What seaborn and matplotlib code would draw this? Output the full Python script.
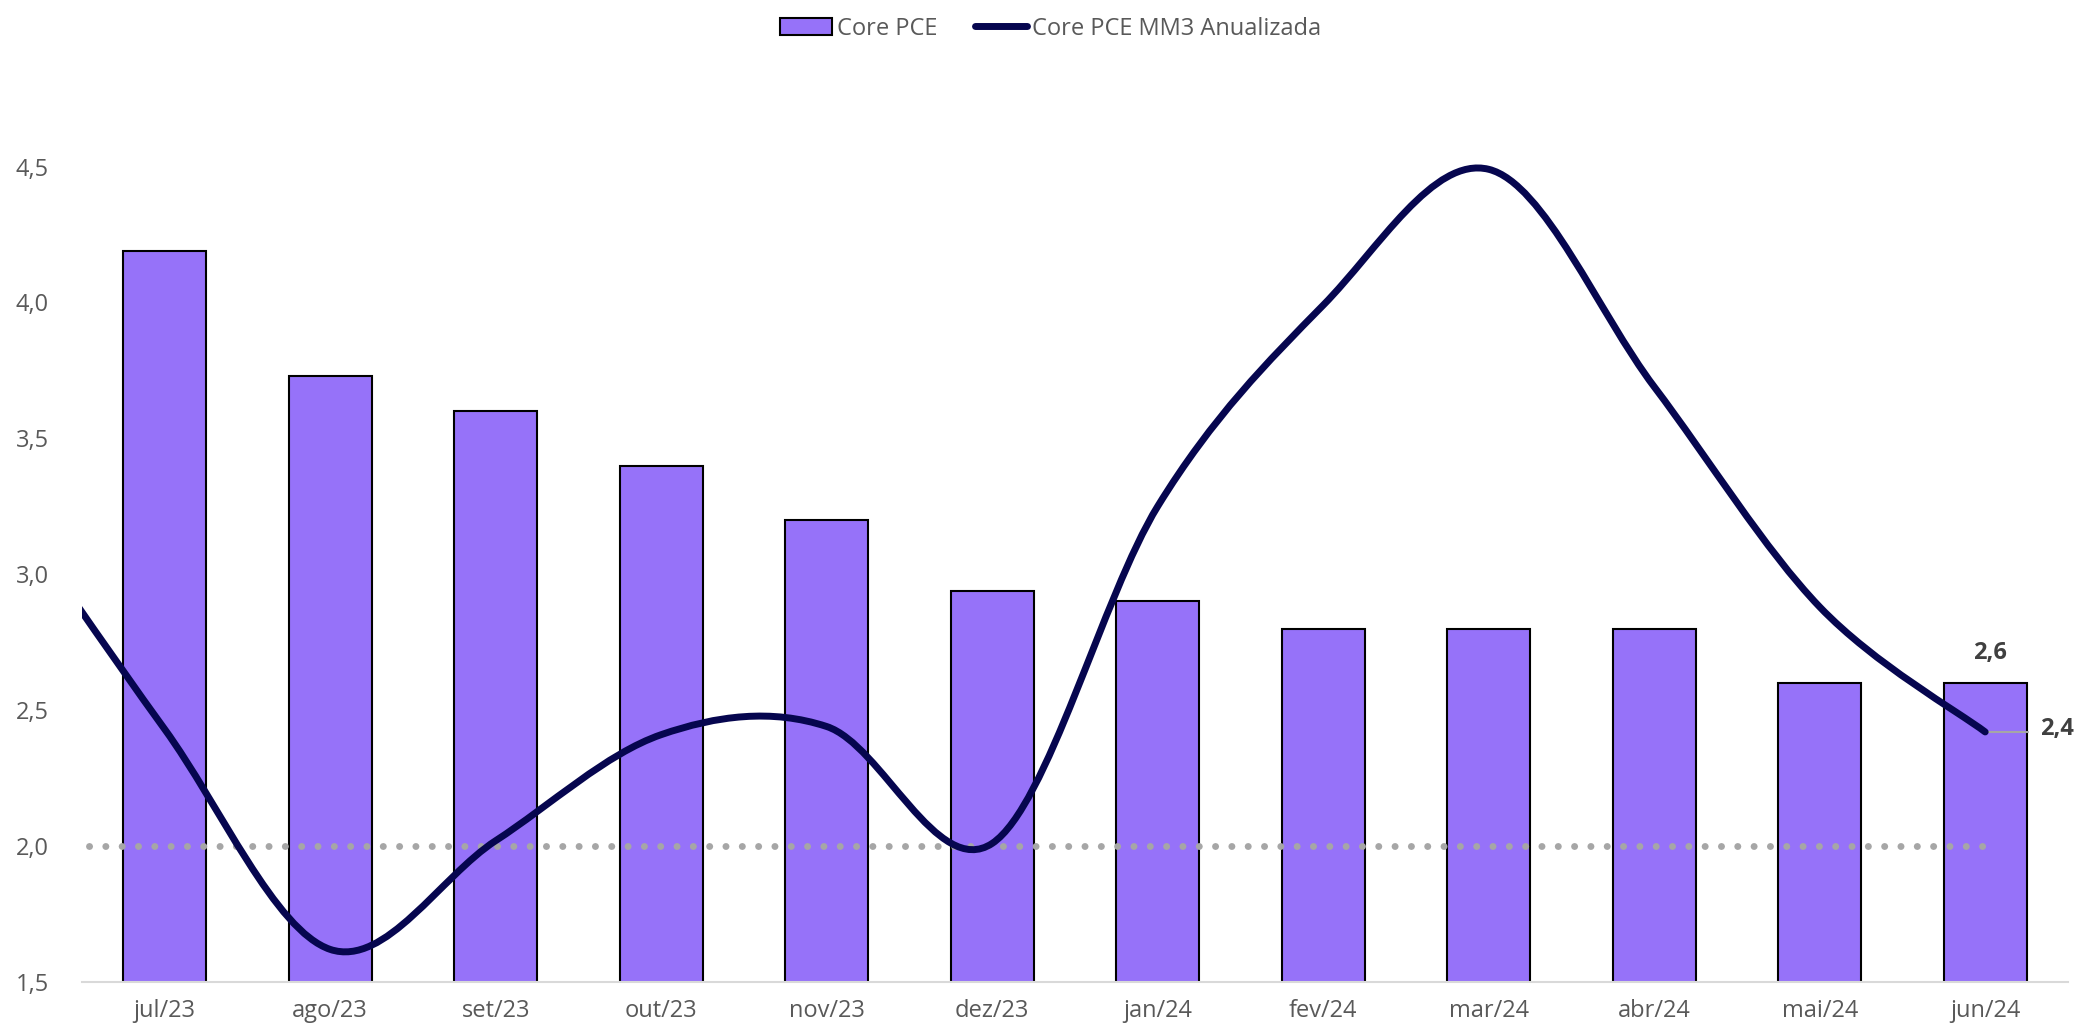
import numpy as np
import pandas as pd
import matplotlib
matplotlib.use("Agg")
import matplotlib.pyplot as plt
import seaborn as sns
from matplotlib.path import Path
from matplotlib.patches import PathPatch, Rectangle, Patch
from matplotlib.lines import Line2D


# Data

months = ["jul/23", "ago/23", "set/23", "out/23", "nov/23", "dez/23",
          "jan/24", "fev/24", "mar/24", "abr/24", "mai/24", "jun/24"]
core_pce = [4.19, 3.73, 3.6, 3.4, 3.2, 2.94, 2.9, 2.8, 2.8, 2.8, 2.6, 2.6]

# MM3 annualized - first value is jun/23, just left of the visible window
mm3_months = ["jun/23"] + months
mm3 = [3.3, 2.43, 1.62, 2.02, 2.41, 2.44, 2.01, 3.25, 3.99, 4.49, 3.69, 2.88, 2.42]

target = 2.0

BAR = "#9672F9"
LINE = "#06064F"
GREY_TXT = "#595959"
DARK_TXT = "#404040"
AXIS = "#D9D9D9"


# Style

sns.set_theme(style="white")
plt.rcParams["font.family"] = ["Open Sans", "DejaVu Sans"]

fig = plt.figure(figsize=(20.8, 10.27), dpi=100)
ax = fig.add_axes([0.0394, 0.0438, 0.9548, 0.794])


# Bars

df = pd.DataFrame({"mes": months, "valor": core_pce})
sns.barplot(data=df, x="mes", y="valor", color=BAR, saturation=1,
            width=0.5, edgecolor="black", linewidth=1.5, ax=ax, zorder=2)


# Smoothed line (Excel-style bezier through the points)

xs = np.arange(len(mm3)) - 1.0
pts = np.column_stack([xs, np.array(mm3)])
verts = [pts[0]]
codes = [Path.MOVETO]
for i in range(len(pts) - 1):
    prev = pts[i - 1] if i > 0 else pts[i]
    nxt = pts[i + 2] if i + 2 < len(pts) else pts[i + 1]
    verts += [pts[i] + (pts[i + 1] - prev) / 6,
              pts[i + 1] - (nxt - pts[i]) / 6,
              pts[i + 1]]
    codes += [Path.CURVE4] * 3

curve = PathPatch(Path(verts, codes), fill=False, edgecolor=LINE, lw=5,
                  capstyle="round", joinstyle="round", zorder=4)
ax.add_patch(curve)
clip = Rectangle((-0.5, 0), 13, 10, transform=ax.transData)
curve.set_clip_path(clip)


# Target line 2%

ax.plot([-0.46, 11], [target, target], color="#A6A6A6", lw=5.0,
        linestyle=(0, (0.01, 2.34)), dash_capstyle="round", zorder=3)


# Labels on last points

ax.text(11.03, core_pce[-1] + 0.11, "2,6", ha="center", va="center",
        fontsize=17, fontweight="bold", color=DARK_TXT)
ax.plot([11, 11.26], [mm3[-1], mm3[-1]], color="#A6A6A6", lw=1.5, zorder=3)
ax.text(11.33, mm3[-1] + 0.01, "2,4", ha="left", va="center",
        fontsize=17, fontweight="bold", color=DARK_TXT, clip_on=False)


# Axes

ax.set_xlim(-0.5, 11.5)
ax.set_ylim(1.5, 4.5)
yt = np.arange(1.5, 4.51, 0.5)
ax.set_yticks(yt)
ax.set_yticklabels([f"{v:.1f}".replace(".", ",") for v in yt])
ax.set_xticks(range(len(months)))
ax.set_xticklabels(months)
ax.set_xticks(np.arange(-0.5, 12, 1), minor=True)
ax.set_xlabel("")
ax.set_ylabel("")

for s in ["left", "top", "right"]:
    ax.spines[s].set_visible(False)
ax.spines["bottom"].set_color(AXIS)
ax.spines["bottom"].set_linewidth(1.5)

ax.tick_params(axis="y", length=0, labelsize=17, labelcolor=GREY_TXT, pad=24)
ax.tick_params(axis="x", which="major", length=0, labelsize=17,
               labelcolor=GREY_TXT, pad=12)
ax.tick_params(axis="x", which="minor", length=7, width=1.5, color=AXIS,
               direction="out")
ax.grid(False)


# Legend

handles = [Patch(facecolor=BAR, edgecolor="black", linewidth=1.5),
           Line2D([], [], color=LINE, lw=5, solid_capstyle="round")]
fig.legend(handles, ["Core PCE", "Core PCE MM3 Anualizada"],
           loc="center", bbox_to_anchor=(0.505, 0.972), ncol=2,
           frameon=False, fontsize=17, labelcolor=GREY_TXT,
           handlelength=2.2, handleheight=0.75, handletextpad=0.2,
           columnspacing=1.6)

fig.savefig("out.png", dpi=100)
